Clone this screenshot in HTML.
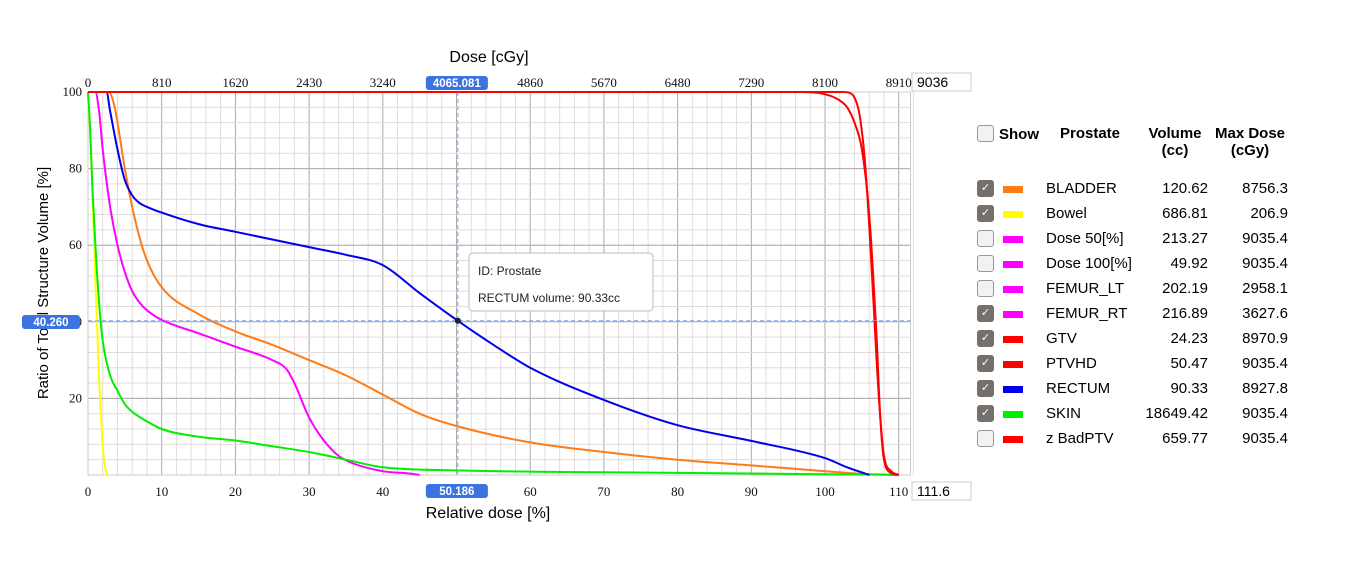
<!DOCTYPE html>
<html><head><meta charset="utf-8"><style>
body{margin:0;background:#fff;width:1349px;height:565px;overflow:hidden;font-family:"Liberation Sans",sans-serif}
svg text{font-family:"Liberation Sans",sans-serif}
.tk{font-family:"Liberation Serif",serif;font-size:13px;fill:#111}
.lg{position:absolute;font-size:15px;color:#000}
.cb{position:absolute;width:15px;height:15px;border:1px solid #999;border-radius:3px;background:#f2f2f2;box-sizing:border-box}
.cb.on{background:#76706c;border-color:#76706c;color:#fff;font-size:11px;text-align:center;line-height:14px}
.sw{position:absolute;width:20px;height:7px}
</style></head><body>
<svg id="chart" width="1349" height="565" style="position:absolute;left:0;top:0"></svg>
<div class="cb" style="left:977px;top:125px;width:17px;height:17px"></div>
<div class="lg" style="left:999px;top:126px;font-weight:bold">Show</div>
<div class="lg" style="left:1060px;top:125px;font-weight:bold">Prostate</div>
<div class="lg" style="left:1140px;top:125px;width:70px;text-align:center;font-weight:bold;line-height:17px">Volume<br>(cc)</div>
<div class="lg" style="left:1210px;top:125px;width:80px;text-align:center;font-weight:bold;line-height:17px">Max Dose<br>(cGy)</div>
<div id="legend"></div>
<script>
const X0=88,XS=7.37,Y0=475,YS=3.83;
const xp=v=>X0+v*XS, yp=v=>Y0-v*YS;
const topTicks=[0,810,1620,2430,3240,4050,4860,5670,6480,7290,8100,8910];
const bottomTicks=[0,10,20,30,40,50,60,70,80,90,100,110];
const leftTicks=[20,40,60,80,100];
const cursorX=50.186, cursorY=40.26, cursorDose="4065.081";
const names=["BLADDER","Bowel","Dose 50[%]","Dose 100[%]","FEMUR_LT","FEMUR_RT","GTV","PTVHD","RECTUM","SKIN","z BadPTV"];
const colors=["#ff7b16","#ffff00","#ff00ff","#ff00ff","#ff00ff","#ff00ff","#ff0000","#ff0000","#0000ee","#00ee00","#ff0000"];
const volumes=["120.62","686.81","213.27","49.92","202.19","216.89","24.23","50.47","90.33","18649.42","659.77"];
const maxDoses=["8756.3","206.9","9035.4","9035.4","2958.1","3627.6","8970.9","9035.4","8927.8","9035.4","9035.4"];
const checked=[1,1,0,0,0,1,1,1,1,1,0];
const bladderX=[0,2.8,3.5,4,5,6,7,8,10,15,20,25,30,35,40,45,50,60,70,80,90,100,105,110];
const bladderY=[100,100,97,92,80,70,62,56,49,42,37.5,34,30,26,21,16,12.8,8.5,6,4,2.5,1,0.3,0];
const bowelX=[0,0.5,1,1.5,2,2.3,2.6];
const bowelY=[100,80,50,25,8,2,0];
const femurX=[0,1,1.5,2,3,4,5,6,7,8,10,15,20,25,27,28,30,32,34,36,40,44,45];
const femurY=[100,100,95,85,70,60,53,48,45,43,40.5,37,33.5,30,27.5,24,15,9,5,3,1,0.3,0];
const gtvX=[0,97,99,100,101,102,103,104,105,106,107,107.5,108,109,110];
const gtvY=[100,100,99.8,99.4,98.8,97.8,96,92,85,68,36,15,4,0.5,0];
const ptvX=[0,102.5,103.3,104,104.7,105.5,106.3,107,107.5,108,109,110];
const ptvY=[100,100,99.8,98.5,94,80,55,30,15,5,1,0];
const rectumX=[0,2.5,3,4,5,6,7,8,10,15,20,25,30,35,40,45,50.186,55,60,70,80,90,100,103,106];
const rectumY=[100,100,95,85,77,73,71,70,68.5,65.5,63.5,61.5,59.5,57.5,54.8,47.5,40.26,34,28,19.6,13,8.9,4.4,2,0];
const skinX=[0,0.3,0.6,1,1.5,2,3,4,5,6,8,10,15,20,25,30,35,40,50,70,90,100,107,110];
const skinY=[100,90,75,60,45,35,26,22,18.5,16.5,14,12,10,9,7.5,6,4,2,1.2,0.7,0.4,0.2,0.1,0];
const series=[[bladderX,bladderY,"#ff7b16","bladder-curve"],[bowelX,bowelY,"#ffff00","bowel-curve"],[femurX,femurY,"#ff00ff","femur-rt-curve"],[skinX,skinY,"#00ee00","skin-curve"],[rectumX,rectumY,"#0000ee","rectum-curve"],[gtvX,gtvY,"#ff0000","gtv-curve"],[ptvX,ptvY,"#ff0000","ptvhd-curve"]];
const svg=document.getElementById('chart');const NS="http://www.w3.org/2000/svg";
function mk(t,a,p){const e=document.createElementNS(NS,t);for(const k in a)e.setAttribute(k,a[k]);(p||svg).appendChild(e);return e;}
function monoPath(xs,ys){const n=xs.length,P=xs.map((x,i)=>[xp(x),yp(ys[i])]);
const d=[],m=new Array(n);for(let i=0;i<n-1;i++)d.push((P[i+1][1]-P[i][1])/(P[i+1][0]-P[i][0]||1e-6));
m[0]=d[0];m[n-1]=d[n-2];for(let i=1;i<n-1;i++)m[i]=(d[i-1]*d[i]<=0)?0:(d[i-1]+d[i])/2;
for(let i=0;i<n-1;i++){if(d[i]==0){m[i]=0;m[i+1]=0;continue;}const a=m[i]/d[i],b=m[i+1]/d[i],s=a*a+b*b;if(s>9){const t=3/Math.sqrt(s);m[i]=t*a*d[i];m[i+1]=t*b*d[i];}}
let s='M'+P[0][0].toFixed(1)+','+P[0][1].toFixed(1);
for(let i=0;i<n-1;i++){const h=(P[i+1][0]-P[i][0])/3;s+='C'+(P[i][0]+h).toFixed(1)+','+(P[i][1]+m[i]*h).toFixed(1)+' '+(P[i+1][0]-h).toFixed(1)+','+(P[i+1][1]-m[i+1]*h).toFixed(1)+' '+P[i+1][0].toFixed(1)+','+P[i+1][1].toFixed(1);}
return s;}
const R=910.5,T=yp(100);
const grid=mk('g',{});


for(let v=0;v<=112;v+=2){mk('line',{x1:xp(v),x2:xp(v),y1:T,y2:Y0,stroke:v%10==0?'#aaa':'#e2dcda','stroke-width':1},grid);}
for(let v=0;v<=100;v+=4){mk('line',{x1:X0,x2:R,y1:yp(v),y2:yp(v),stroke:'#e2dcda'},grid);}
for(let v=0;v<=100;v+=20){mk('line',{x1:X0,x2:R,y1:yp(v),y2:yp(v),stroke:'#aaa'},grid);}
mk('rect',{x:X0,y:T,width:R-X0,height:Y0-T,fill:'none',stroke:'#ccc'});
topTicks.forEach((t,i)=>{const e=mk('text',{x:xp(i*10),y:87,'text-anchor':'middle',class:'tk'});e.textContent=t;

});
bottomTicks.forEach(t=>{const e=mk('text',{x:xp(t),y:496,'text-anchor':'middle',class:'tk'});e.textContent=t;

});
leftTicks.forEach(t=>{const e=mk('text',{x:82,y:yp(t)+4,'text-anchor':'end',class:'tk'});e.textContent=t;

});
series.forEach(s=>{
const p=mk('path',{d:monoPath(s[0],s[1]),fill:'none',stroke:s[2],'stroke-width':2,'stroke-linejoin':'round'});

});
const cx=xp(cursorX),cy=yp(cursorY);
mk('line',{x1:cx,x2:cx,y1:T,y2:Y0,stroke:'#7f9ff0','stroke-dasharray':'4,3'});
mk('line',{x1:X0,x2:R,y1:cy,y2:cy,stroke:'#7f9ff0','stroke-dasharray':'4,3'});
const dot=mk('circle',{cx:cx,cy:cy,r:3,fill:'#222'});


function badge(x,y,w,txt,name){const g=mk('g',{});


mk('rect',{x:x,y:y,width:w,height:14,rx:3,fill:'#3b73e0'},g);const t=mk('text',{x:x+w/2,y:y+11,'text-anchor':'middle','font-size':11.5,'font-weight':'bold',fill:'#fff'},g);t.textContent=txt;}
badge(cx-32,76,62,cursorDose,'top-cursor-label');
badge(cx-32,484,62,cursorX.toFixed(3),'bottom-cursor-label');
const tg=mk('g',{});


mk('rect',{x:469,y:253,width:184,height:58,rx:4,fill:'#fff',stroke:'#bbb'},tg);
let t1=mk('text',{x:478,y:275,'font-size':12,fill:'#222'},tg);t1.textContent='ID: Prostate';
let t2=mk('text',{x:478,y:302,'font-size':12,fill:'#222'},tg);t2.textContent='RECTUM volume: 90.33cc';
let a=mk('text',{x:489,y:62,'text-anchor':'middle','font-size':16});a.textContent='Dose [cGy]';


a=mk('text',{x:488,y:518,'text-anchor':'middle','font-size':16});a.textContent='Relative dose [%]';


a=mk('text',{x:0,y:0,'text-anchor':'middle','font-size':15,transform:'translate(48,283) rotate(-90)'});a.textContent='Ratio of Total Structure Volume [%]';


badge(22,315,58,cursorY.toFixed(3),'left-cursor-label');
function box(y,txt,name){const g=mk('g',{});


mk('rect',{x:912,y:y,width:59,height:18,fill:'#fff',stroke:'#ccc'},g);const t=mk('text',{x:917,y:y+14,'font-size':14},g);t.textContent=txt;}
box(73,'9036','max-dose-input');box(482,'111.6','max-relative-input');
const lg=document.getElementById('legend');
names.forEach((n,i)=>{const y=180+i*25;
const c=document.createElement('div');c.className='cb'+(checked[i]?' on':'');c.style.cssText=`left:977px;top:${y}px;width:17px;height:17px`;if(checked[i])c.textContent='✓';

lg.appendChild(c);
const s=document.createElement('div');s.className='sw';s.style.cssText=`left:1003px;top:${y+6}px;background:${colors[i]}`;

lg.appendChild(s);
const nm=document.createElement('div');nm.className='lg';nm.style.cssText=`left:1046px;top:${y}px`;nm.textContent=n;

lg.appendChild(nm);
const v=document.createElement('div');v.className='lg';v.style.cssText=`left:1120px;width:88px;text-align:right;top:${y}px`;v.textContent=volumes[i];

lg.appendChild(v);
const m=document.createElement('div');m.className='lg';m.style.cssText=`left:1200px;width:88px;text-align:right;top:${y}px`;m.textContent=maxDoses[i];

lg.appendChild(m);});
</script>
</body></html>
